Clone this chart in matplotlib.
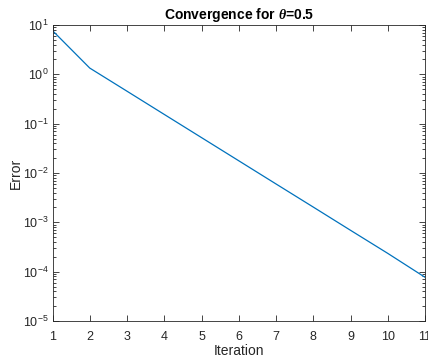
import matplotlib
matplotlib.use("Agg")
import matplotlib.pyplot as plt
from matplotlib.ticker import LogLocator, NullFormatter, FixedLocator

iterations = [1, 2, 3, 4, 5, 6, 7, 8, 9, 10, 11]
errors = [7.7, 1.34, 0.455, 0.154, 0.0522, 0.0177, 0.0060, 0.00204, 0.00069, 0.000235, 7.7e-5]
xticks = [1, 2, 3, 4, 5, 6, 7, 8, 9, 10, 11]

plt.rcParams['font.family'] = ['Liberation Sans', 'DejaVu Sans']
plt.rcParams['mathtext.fontset'] = 'custom'
plt.rcParams['mathtext.it'] = 'Liberation Serif:italic:bold'
plt.rcParams['mathtext.bf'] = 'Liberation Sans:bold'

fig = plt.figure(figsize=(4.28, 3.58), dpi=100)
ax = fig.add_axes([52.5/428, 1 - 321/358, (425 - 52.5)/428, (321 - 25)/358])
ax.plot(iterations, errors, color='#0072BD', linewidth=0.9)
ax.set_yscale('log')
ax.set_xlim(1, 11)
ax.set_ylim(1e-5, 1e1)
ax.xaxis.set_major_locator(FixedLocator(xticks))
ax.yaxis.set_major_locator(LogLocator(base=10, numticks=10))
ax.yaxis.set_minor_locator(LogLocator(base=10, subs=range(2, 10), numticks=20))
ax.yaxis.set_minor_formatter(NullFormatter())
ax.tick_params(which='both', direction='in', top=True, right=True, labelsize=9, color='#262626', labelcolor='#262626', width=0.6)
ax.tick_params(which='major', length=4)
ax.tick_params(which='minor', length=2)
ax.tick_params(axis='x', pad=7)
ax.tick_params(axis='y', pad=3)
for s in ax.spines.values():
    s.set_linewidth(0.6)
    s.set_color('#262626')
ax.set_xlabel('Iteration', fontsize=10, color='#262626', labelpad=1)
ax.set_ylabel('Error', fontsize=10, color='#262626', labelpad=-0.5)
ax.set_title(r'Convergence for $\theta$=0.5', fontsize=10, fontweight='bold', pad=4)
fig.savefig('out.png', dpi=100)
